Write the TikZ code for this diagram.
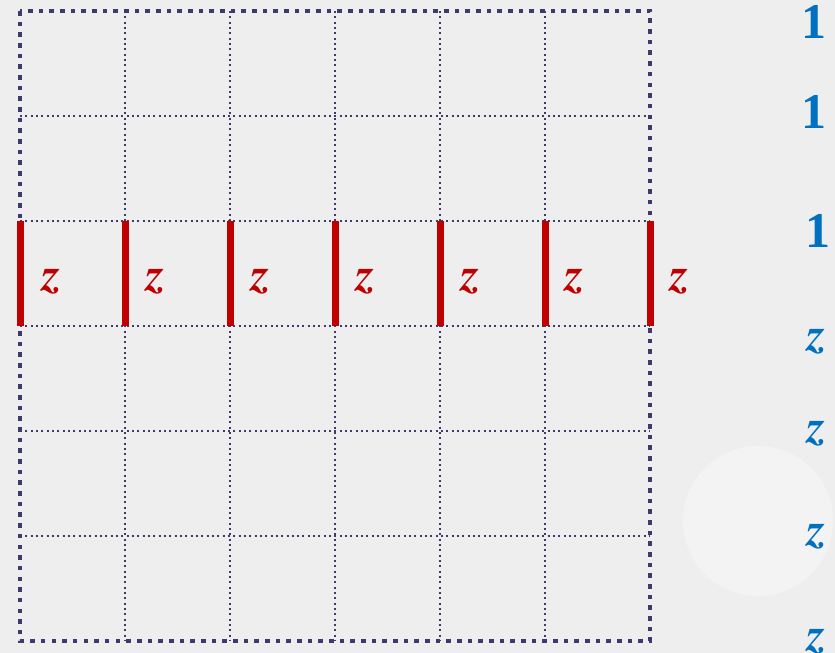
\documentclass[tikz,border=0pt]{standalone}
\usepackage{fontspec}
\setmainfont{Liberation Serif}
\definecolor{bgc}{HTML}{EEEEEE}
\definecolor{circc}{HTML}{F3F3F3}
\definecolor{gridc}{HTML}{3D3B6B}
\definecolor{redc}{HTML}{C00000}
\definecolor{bluec}{HTML}{0070C0}
\newcommand{\zfont}{\fontsize{47}{49}\usefont{T1}{ptm}{b}{it}}
\tikzset{
  outer/.style={draw=gridc,line width=4.6pt,dash pattern=on 4.6pt off 6.07pt},
  inner/.style={draw=gridc,line width=2pt,dash pattern=on 2pt off 3.33pt},
  bar/.style={draw=redc,line width=7pt},
  rz/.style={text=redc,font=\zfont,inner sep=0pt,anchor=base west},
  bz/.style={text=bluec,font=\zfont,inner sep=0pt,anchor=base west},
  bone/.style={text=bluec,font=\fontsize{50}{52}\selectfont\bfseries,inner sep=0pt,anchor=base west}
}
\begin{document}
\begin{tikzpicture}[x=1pt,y=-1pt]
\fill[bgc] (0,0) rectangle (835,653);
\useasboundingbox (0,0) rectangle (835,653);
\fill[circc] (758,521) circle (75);
% inner grid
\foreach \i in {1,...,5} {
  \draw[inner] (20+105*\i,11) -- (20+105*\i,641);
  \draw[inner] (20,11+105*\i) -- (650,11+105*\i);
}
% outer border
\draw[outer] (20,11) rectangle (650,641);
% red bars and labels
\foreach \i in {0,...,6} {
  \draw[bar] (20+105*\i,221) -- (20+105*\i,326);
  \node[rz] (rz\i) at (42+104.7*\i,290) {z};
}
% right column
\node[bone] (o1) at (801,38) {1};
\node[bone] (o2) at (801,128) {1};
\node[bone] (o3) at (805,247) {1};
\node[bz] (z1) at (807,350) {z};
\node[bz] (z2) at (807,442) {z};
\node[bz] (z3) at (807,545) {z};
\node[bz] (z4) at (807,650) {z};
\end{tikzpicture}
\end{document}
